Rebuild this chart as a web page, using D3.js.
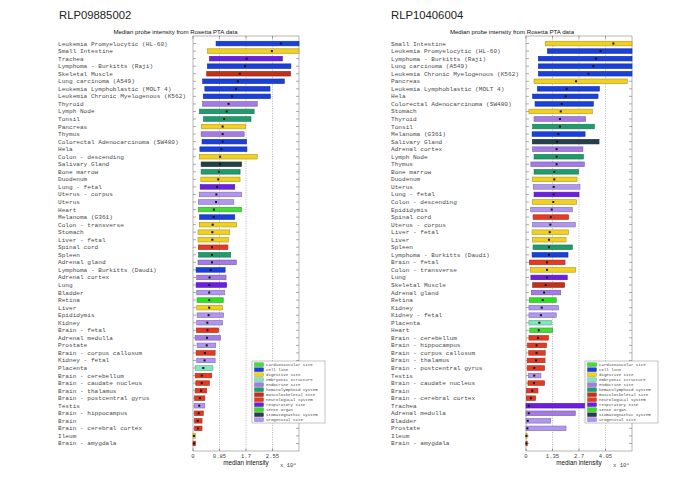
<!DOCTYPE html>
<html><head><meta charset="utf-8">
<script src="https://cdn.jsdelivr.net/npm/d3@7"></script>
<style>body{margin:0;background:#fff}svg{display:block}</style>
</head><body><svg id="c" width="685" height="478"></svg>
<script>
// ---------- DATA ----------
const groups = ["cardiovascular site","cell line","digestive site","embryonic structure","endocrine site","hematolymphoid system","musculoskeletal site","neurological system","respiratory site","sense organ","stomatognathic system","urogenital site"];
const groupColors = ["#45dc3a","#1a40dc","#f2d020","#80e6c0","#a47be4","#1f9c6c","#bf3119","#e53a22","#6c1fe0","#2fe020","#26404a","#b196ef"];
const tissueGroup = {
 "Leukemia Promyelocytic (HL-60)":"cell line","Small Intestine":"digestive site","Trachea":"respiratory site",
 "Lymphoma - Burkitts (Raji)":"cell line","Skeletal Muscle":"musculoskeletal site","Lung carcinoma (A549)":"cell line",
 "Leukemia Lymphoblastic (MOLT 4)":"cell line","Leukemia Chronic Myelogenous (K562)":"cell line","Thyroid":"endocrine site",
 "Lymph Node":"hematolymphoid system","Tonsil":"hematolymphoid system","Pancreas":"digestive site","Thymus":"endocrine site",
 "Colorectal Adenocarcinoma (SW480)":"cell line","Hela":"cell line","Colon - descending":"digestive site",
 "Salivary Gland":"stomatognathic system","Bone marrow":"hematolymphoid system","Duodenum":"digestive site",
 "Lung - fetal":"respiratory site","Uterus - corpus":"urogenital site","Uterus":"urogenital site","Heart":"cardiovascular site",
 "Melanoma (G361)":"cell line","Colon - transverse":"digestive site","Stomach":"digestive site","Liver - fetal":"digestive site",
 "Spinal cord":"neurological system","Spleen":"hematolymphoid system","Adrenal gland":"endocrine site",
 "Lymphoma - Burkitts (Daudi)":"cell line","Adrenal cortex":"endocrine site","Lung":"respiratory site","Bladder":"urogenital site",
 "Retina":"sense organ","Liver":"digestive site","Epididymis":"urogenital site","Kidney":"urogenital site",
 "Brain - fetal":"neurological system","Adrenal medulla":"endocrine site","Prostate":"urogenital site",
 "Brain - corpus callosum":"neurological system","Kidney - fetal":"urogenital site","Placenta":"embryonic structure",
 "Brain - cerebellum":"neurological system","Brain - caudate nucleus":"neurological system","Brain - thalamus":"neurological system",
 "Brain - postcentral gyrus":"neurological system","Testis":"urogenital site","Brain - hippocampus":"neurological system",
 "Brain":"neurological system","Brain - cerebral cortex":"neurological system","Ileum":"digestive site","Brain - amygdala":"neurological system"
};

const leftTissues = ["Leukemia Promyelocytic (HL-60)","Small Intestine","Trachea","Lymphoma - Burkitts (Raji)","Skeletal Muscle","Lung carcinoma (A549)","Leukemia Lymphoblastic (MOLT 4)","Leukemia Chronic Myelogenous (K562)","Thyroid","Lymph Node","Tonsil","Pancreas","Thymus","Colorectal Adenocarcinoma (SW480)","Hela","Colon - descending","Salivary Gland","Bone marrow","Duodenum","Lung - fetal","Uterus - corpus","Uterus","Heart","Melanoma (G361)","Colon - transverse","Stomach","Liver - fetal","Spinal cord","Spleen","Adrenal gland","Lymphoma - Burkitts (Daudi)","Adrenal cortex","Lung","Bladder","Retina","Liver","Epididymis","Kidney","Brain - fetal","Adrenal medulla","Prostate","Brain - corpus callosum","Kidney - fetal","Placenta","Brain - cerebellum","Brain - caudate nucleus","Brain - thalamus","Brain - postcentral gyrus","Testis","Brain - hippocampus","Brain","Brain - cerebral cortex","Ileum","Brain - amygdala"];
const leftLow    = [0.74,0.46,0.53,0.46,0.44,0.31,0.38,0.33,0.31,0.21,0.34,0.27,0.26,0.29,0.22,0.20,0.26,0.26,0.25,0.23,0.20,0.17,0.17,0.21,0.20,0.16,0.16,0.17,0.18,0.16,0.10,0.12,0.10,0.12,0.13,0.12,0.13,0.12,0.11,0.07,0.13,0.10,0.12,0.07,0.07,0.09,0.07,0.05,0.04,0.05,0.05,0.05,0.00,0.00];
const leftHigh   = [3.40,3.40,2.87,3.14,3.13,2.93,2.47,2.48,2.06,1.96,1.86,1.69,1.64,1.72,1.73,2.06,1.56,1.51,1.51,1.34,1.56,1.31,1.56,1.34,1.40,1.18,1.14,1.12,1.21,1.39,1.03,1.06,1.08,1.02,0.97,0.95,0.98,0.95,0.82,0.88,0.73,0.71,0.71,0.64,0.60,0.53,0.44,0.38,0.38,0.33,0.29,0.29,0.08,0.08];
const leftMedian = [2.82,2.53,1.72,1.67,1.50,1.44,1.38,1.25,1.14,1.08,1.00,0.95,0.95,0.95,0.91,0.87,0.87,0.83,0.81,0.77,0.75,0.74,0.67,0.66,0.63,0.62,0.62,0.61,0.61,0.61,0.57,0.53,0.52,0.52,0.52,0.52,0.50,0.46,0.46,0.45,0.44,0.38,0.37,0.33,0.28,0.28,0.26,0.22,0.20,0.18,0.15,0.16,0.03,0.03];
const leftTickValues = [0,0.85,1.7,2.55];
const leftTickLabels = ["0","0.85","1.7","2.55"];

const rightTissues = ["Small Intestine","Leukemia Promyelocytic (HL-60)","Lymphoma - Burkitts (Raji)","Lung carcinoma (A549)","Leukemia Chronic Myelogenous (K562)","Pancreas","Leukemia Lymphoblastic (MOLT 4)","Hela","Colorectal Adenocarcinoma (SW480)","Stomach","Thyroid","Tonsil","Melanoma (G361)","Salivary Gland","Adrenal cortex","Lymph Node","Thymus","Bone marrow","Duodenum","Uterus","Lung - fetal","Colon - descending","Epididymis","Spinal cord","Uterus - corpus","Liver - fetal","Liver","Spleen","Lymphoma - Burkitts (Daudi)","Brain - fetal","Colon - transverse","Lung","Skeletal Muscle","Adrenal gland","Retina","Kidney","Kidney - fetal","Placenta","Heart","Brain - cerebellum","Brain - hippocampus","Brain - corpus callosum","Brain - thalamus","Brain - postcentral gyrus","Testis","Brain - caudate nucleus","Brain","Brain - cerebral cortex","Trachea","Adrenal medulla","Bladder","Prostate","Ileum","Brain - amygdala"];
const rightLow    = [0.98,1.09,0.63,0.63,0.63,0.41,0.58,0.34,0.46,0.15,0.41,0.34,0.31,0.32,0.34,0.41,0.25,0.41,0.34,0.37,0.41,0.32,0.24,0.36,0.34,0.31,0.34,0.36,0.31,0.17,0.22,0.25,0.34,0.27,0.17,0.15,0.15,0.15,0.19,0.15,0.08,0.14,0.07,0.07,0.12,0.10,0.03,0.02,0.00,0.00,0.00,0.00,0.00,0.00];
const rightHigh   = [5.40,5.40,5.40,5.40,5.40,5.16,3.74,3.67,3.43,3.38,3.04,3.48,3.01,3.72,2.90,2.92,2.97,2.68,2.60,2.75,2.70,2.58,2.36,2.17,2.51,2.17,2.04,2.36,2.14,1.99,2.53,2.10,1.97,1.77,1.54,1.66,1.54,1.29,1.36,1.14,1.05,0.98,0.97,0.95,0.76,0.95,0.61,0.49,3.00,2.51,1.26,2.04,0.06,0.06];
const rightMedian = [4.45,3.80,3.57,3.43,3.18,2.55,2.07,2.02,1.82,1.77,1.73,1.73,1.65,1.58,1.56,1.56,1.56,1.44,1.44,1.41,1.41,1.39,1.31,1.26,1.24,1.21,1.17,1.17,1.17,1.07,1.07,1.07,1.00,0.92,0.85,0.80,0.76,0.68,0.65,0.61,0.54,0.54,0.51,0.42,0.42,0.41,0.32,0.25,0.14,0.14,0.09,0.07,0.02,0.02];
const rightTickValues = [0,1.35,2.7,4.05];
const rightTickLabels = ["0","1.35","2.7","4.05"];

// ---------- DRAW ----------
const svg = d3.select("#c");
svg.append("rect").attr("width",685).attr("height",478).attr("fill","#fff");
const color = d3.scaleOrdinal(groups, groupColors);
const MONO = "'Liberation Mono','DejaVu Sans Mono',monospace";
const SANS = "'Liberation Sans',Arial,sans-serif";

function panel(p){
  const g = svg.append("g");
  const x = d3.scaleLinear().domain([0,p.max]).range([p.x0,p.x1]);
  const y = d3.scalePoint().domain(p.tissues).range([36,451]).padding(1);
  const top = 36, bottom = 451;

  g.append("text").attr("x",p.titleX).attr("y",19).attr("font-family",SANS).attr("font-size",11.3).attr("fill","#222").text(p.title);
  g.append("text").attr("x",p.subX).attr("y",33.5).attr("text-anchor","middle").attr("font-family",SANS).attr("font-size",6.1).attr("fill","#111").text("Median probe intensity from Rosetta PTA data");

  g.selectAll(".grid").data(p.ticks.slice(1)).join("line")
    .attr("x1",d=>x(d)).attr("x2",d=>x(d)).attr("y1",top).attr("y2",bottom)
    .attr("stroke","#999").attr("stroke-width",0.6).attr("stroke-dasharray","1.2,1.2");
  g.append("rect").attr("x",p.x0).attr("y",top).attr("width",p.x1-p.x0).attr("height",bottom-top)
    .attr("fill","none").attr("stroke","#888").attr("stroke-width",0.6);
  g.selectAll(".lt").data(p.tissues).join("line").attr("x1",p.x0).attr("x2",p.x0+3)
    .attr("y1",d=>y(d)).attr("y2",d=>y(d)).attr("stroke","#777").attr("stroke-width",0.6);
  g.selectAll(".rt").data(p.tissues).join("line").attr("x1",p.x1-3).attr("x2",p.x1)
    .attr("y1",d=>y(d)).attr("y2",d=>y(d)).attr("stroke","#777").attr("stroke-width",0.6);
  g.selectAll(".bt").data(p.ticks).join("line").attr("x1",d=>x(d)).attr("x2",d=>x(d))
    .attr("y1",bottom-2.5).attr("y2",bottom).attr("stroke","#666").attr("stroke-width",0.6);
  g.selectAll(".tt").data(p.ticks).join("line").attr("x1",d=>x(d)).attr("x2",d=>x(d))
    .attr("y1",top).attr("y2",top+2.5).attr("stroke","#666").attr("stroke-width",0.6);

  g.selectAll(".lab").data(p.tissues).join("text").attr("x",p.labelX).attr("y",d=>y(d)+2)
    .attr("font-family",MONO).attr("font-size",6.1).attr("fill","#4a4a4a").text(d=>d);

  const bh = 4.6;
  g.selectAll(".bar").data(p.tissues).join("rect")
    .attr("x",(d,i)=>x(p.low[i])).attr("y",d=>y(d)-bh/2)
    .attr("width",(d,i)=>Math.max(0.8, x(Math.min(p.max,p.high[i]))-x(p.low[i])))
    .attr("height",bh)
    .attr("fill",d=>color(tissueGroup[d]))
    .attr("stroke",d=>d3.color(color(tissueGroup[d])).darker(0.9))
    .attr("stroke-width",0.6);
  g.selectAll(".med").data(p.tissues).join("rect")
    .attr("x",(d,i)=>x(p.median[i])-1).attr("y",d=>y(d)-1).attr("width",2).attr("height",2)
    .attr("fill","#111");

  g.selectAll(".xl").data(p.ticks).join("text").attr("x",d=>x(d)).attr("y",458)
    .attr("text-anchor","middle").attr("font-family",MONO).attr("font-size",5.6).attr("fill","#444")
    .text((d,i)=>p.tickLabels[i]);
  g.append("text").attr("x",(p.x0+p.x1)/2).attr("y",465).attr("text-anchor","middle")
    .attr("font-family",SANS).attr("font-size",6.3).attr("fill","#111").text("median intensity");
  const ex = g.append("text").attr("x",p.x1-19).attr("y",467).attr("font-family",MONO).attr("font-size",5.6).attr("fill","#444");
  ex.append("tspan").text("x 10");
  ex.append("tspan").attr("dy",-2.5).attr("font-size",4).text("4");

  const lg = g.append("g").attr("transform",`translate(${p.legX},361)`);
  lg.append("rect").attr("width",73).attr("height",62).attr("fill","#fff").attr("stroke","#888").attr("stroke-width",0.5);
  const it = lg.selectAll(".li").data(groups).join("g").attr("transform",(d,i)=>`translate(0,${3.7+i*5})`);
  it.append("rect").attr("x",2.5).attr("y",-1.9).attr("width",9).attr("height",3.8)
    .attr("fill",d=>color(d)).attr("stroke",d=>d3.color(color(d)).darker(0.9)).attr("stroke-width",0.4);
  it.append("text").attr("x",14).attr("y",1.5).attr("font-family",MONO).attr("font-size",4.1).attr("fill","#444").text(d=>d);
}

panel({title:"RLP09885002", titleX:59, subX:175.5, labelX:58, x0:193, x1:299, max:3.4,
  tissues:leftTissues, low:leftLow, high:leftHigh, median:leftMedian,
  ticks:leftTickValues, tickLabels:leftTickLabels, legX:252});
panel({title:"RLP10406004", titleX:391, subX:512, labelX:391, x0:526, x1:632, max:5.4,
  tissues:rightTissues, low:rightLow, high:rightHigh, median:rightMedian,
  ticks:rightTickValues, tickLabels:rightTickLabels, legX:585});
</script></body></html>
